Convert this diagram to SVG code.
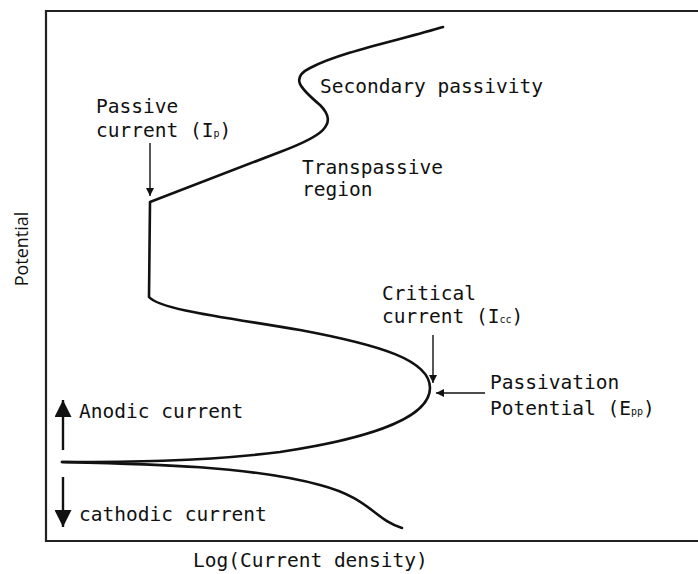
<svg xmlns="http://www.w3.org/2000/svg" width="698" height="574" viewBox="0 0 698 574">
<style>
.t{font-family:"DejaVu Sans Mono","Liberation Mono",monospace;font-size:19.5px;fill:#111}
.sub{font-size:10px}
.curve{fill:none;stroke:#111;stroke-width:2.6;stroke-linecap:round;stroke-linejoin:round}
.ptr{fill:none;stroke:#111;stroke-width:1.4}
.big{fill:none;stroke:#111;stroke-width:2.4}
</style>
<defs>
<marker id="ah" viewBox="0 0 10 10" refX="10" refY="5" markerWidth="8" markerHeight="10" markerUnits="userSpaceOnUse" orient="auto"><path d="M0,0 L10,5 L0,10 Z" fill="#111"/></marker>
<marker id="bh" viewBox="0 0 10 10" refX="10" refY="5" markerWidth="17" markerHeight="17" markerUnits="userSpaceOnUse" orient="auto"><path d="M0,0 L10,5 L0,10 Z" fill="#111"/></marker>
</defs>
<rect width="698" height="574" fill="#fff"/>
<g id="frame"><path d="M700,11 L46,11 L46,541 L700,541" fill="none" stroke="#222" stroke-width="2.2"/></g>
<g id="connectors">
<path class="curve" d="M443,27 C400,40 340,52 310,68 C290,78 300,88 320,105 C340,125 320,137 280,152 L150,202 L149,297 C160,310 230,318 300,330 C380,345 430,360 430,388 C430,420 360,440 280,452 C200,462 120,462 62,462"/>
<path class="curve" d="M62,462 C150,464 250,466 320,485 C370,498 375,520 402,528"/>
<path class="ptr" d="M150,143 L150,196" marker-end="url(#ah)"/>
<path class="ptr" d="M433,335 L433,383" marker-end="url(#ah)"/>
<path class="ptr" d="M485,393 L436,393" marker-end="url(#ah)"/>
<path class="big" d="M63,450 L63,400" marker-end="url(#bh)"/>
<path class="big" d="M63,477 L63,527" marker-end="url(#bh)"/>
</g>
<g id="label-passive"><text class="t" x="96" y="113">Passive</text><text class="t" x="96" y="137">current (I<tspan class="sub">p</tspan>)</text></g>
<g id="label-secondary"><text class="t" x="320" y="93">Secondary passivity</text></g>
<g id="label-transpassive"><text class="t" x="302" y="174">Transpassive</text><text class="t" x="302" y="196">region</text></g>
<g id="label-critical"><text class="t" x="382" y="300">Critical</text><text class="t" x="382" y="323">current (I<tspan class="sub">cc</tspan>)</text></g>
<g id="label-passivation"><text class="t" x="490" y="389">Passivation</text><text class="t" x="490" y="415">Potential (E<tspan class="sub">pp</tspan>)</text></g>
<g id="label-anodic"><text class="t" x="79" y="418">Anodic current</text></g>
<g id="label-cathodic"><text class="t" x="79" y="521">cathodic current</text></g>
<g id="label-x"><text class="t" x="193" y="567">Log(Current density)</text></g>
<g id="label-y"><text x="28" y="249" transform="rotate(-90 28 249)" text-anchor="middle" font-family="'Open Sans','Noto Sans',sans-serif" font-size="18" fill="#111">Potential</text></g>
</svg>
